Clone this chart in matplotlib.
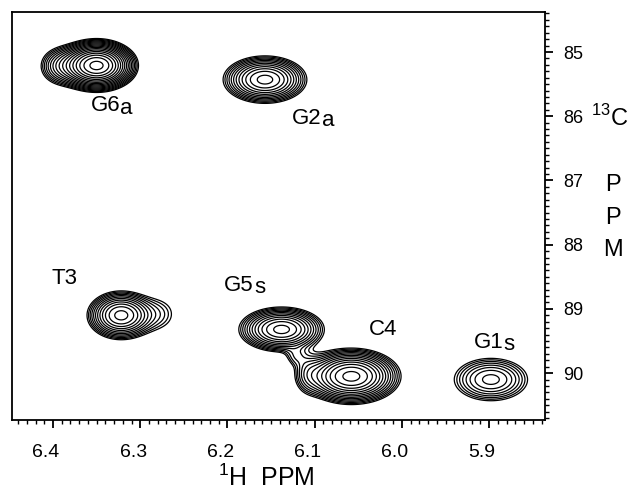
import numpy as np
import matplotlib
matplotlib.use("Agg")
import matplotlib.pyplot as plt
from matplotlib.ticker import FixedLocator, MultipleLocator
import matplotlib.transforms as mtransforms

plt.rcParams['font.family'] = ['Liberation Sans', 'DejaVu Sans']

# ---- data ----
peak_labels = ['G6', 'G2', 'T3', 'G5', 'C4', 'G1']
peak_suffix = ['a', 'a', '', 's', '', 's']
peak_h = [6.350, 6.157, 6.322, 6.138, 6.058, 5.898]     # 1H ppm
peak_c = [85.21, 85.43, 89.10, 89.32, 90.05, 90.10]     # 13C ppm
half_h = [0.048, 0.048, 0.039, 0.049, 0.057, 0.042]     # outer half width (1H)
half_c = [0.42, 0.37, 0.38, 0.35, 0.44, 0.33]           # outer half width (13C)
n_contours = [17, 12, 12, 12, 14, 8]

# shoulders / tails
sh_h = [6.392, 6.278, 6.122, 6.108]
sh_c = [85.22, 89.08, 89.74, 90.00]
sh_sig_h = [0.014, 0.016, 0.008, 0.010]
sh_sig_c = [0.17, 0.20, 0.10, 0.20]
sh_amp = [3.0, 1.35, 1.25, 1.6]

label_h = [6.340, 6.109, 6.387, 6.187, 6.022, 5.901]
label_c = [85.84, 86.03, 88.52, 88.63, 89.32, 89.52]

xticks = [6.4, 6.3, 6.2, 6.1, 6.0, 5.9]
yticks = [85, 86, 87, 88, 89, 90]

# contour level settings
base_level = 1.0
level_factor = 1.22

# ---- build surface ----
hx = np.linspace(5.82, 6.46, 700)
cy = np.linspace(84.3, 90.8, 700)
H, C = np.meshgrid(hx, cy)
Z = np.zeros_like(H)
for h0, c0, wh, wc, n in zip(peak_h, peak_c, half_h, half_c, n_contours):
    A = base_level * level_factor ** (n - 1) * 1.08
    k = np.sqrt(2 * np.log(A / base_level))
    sh, sc = wh / k, wc / k
    Z += A * np.exp(-((H - h0) ** 2 / (2 * sh ** 2) + (C - c0) ** 2 / (2 * sc ** 2)))
for h0, c0, sh, sc, A in zip(sh_h, sh_c, sh_sig_h, sh_sig_c, sh_amp):
    Z += A * np.exp(-((H - h0) ** 2 / (2 * sh ** 2) + (C - c0) ** 2 / (2 * sc ** 2)))

levels = base_level * level_factor ** np.arange(max(n_contours))

fig = plt.figure(figsize=(6.38, 4.99), dpi=100)
ax = fig.add_axes([12 / 638, 1 - 420 / 499, (545 - 12) / 638, (420 - 12) / 499])
ax.contour(H, C, Z, levels=levels, colors='black', linewidths=0.9)

ax.set_xlim(6.447, 5.836)
ax.set_ylim(90.73, 84.377)

for s in ax.spines.values():
    s.set_linewidth(1.3)

ax.xaxis.set_major_locator(FixedLocator(xticks))
ax.xaxis.set_minor_locator(MultipleLocator(0.01))
ax.set_xticklabels([f"{t:.1f}" for t in xticks], fontsize=14)
ax.yaxis.set_major_locator(FixedLocator(yticks))
ax.yaxis.set_minor_locator(MultipleLocator(0.1))
ax.yaxis.tick_right()
ax.set_yticklabels([str(t) for t in yticks], fontsize=13)
ax.tick_params(axis='x', which='major', direction='out', length=6, width=1.3, pad=11)
ax.tick_params(axis='x', which='minor', direction='out', length=3, width=1.0)
ax.tick_params(axis='y', which='major', direction='out', length=6, width=1.3, pad=7)
ax.tick_params(axis='y', which='minor', direction='out', length=3, width=1.0)

offset = mtransforms.ScaledTranslation(-7 / 100, 0, fig.dpi_scale_trans)
for tick in ax.xaxis.get_major_ticks():
    tick.label1.set_transform(tick.label1.get_transform() + offset)

# peak labels
for lab, suf, lh, lc in zip(peak_labels, peak_suffix, label_h, label_c):
    t = ax.text(lh, lc, lab, fontsize=16, ha='center', va='center')
    if suf:
        ax.annotate(suf, xy=(1, 0), xycoords=t, xytext=(0.2, -1.5),
                    textcoords='offset points', fontsize=16, ha='left', va='bottom')

fig.text(266 / 638, 1 - 478 / 499, r'$^{\mathregular{1}}$H  PPM', fontsize=18,
         ha='center', va='center')
fig.text(610 / 638, 1 - 118 / 499, r'$^{\mathregular{13}}$C', fontsize=17,
         ha='center', va='center')
for txt, yy in zip(['P', 'P', 'M'], [185, 218, 250]):
    fig.text(613 / 638, 1 - yy / 499, txt, fontsize=17, ha='center', va='center')

fig.savefig('out.png', dpi=100)
